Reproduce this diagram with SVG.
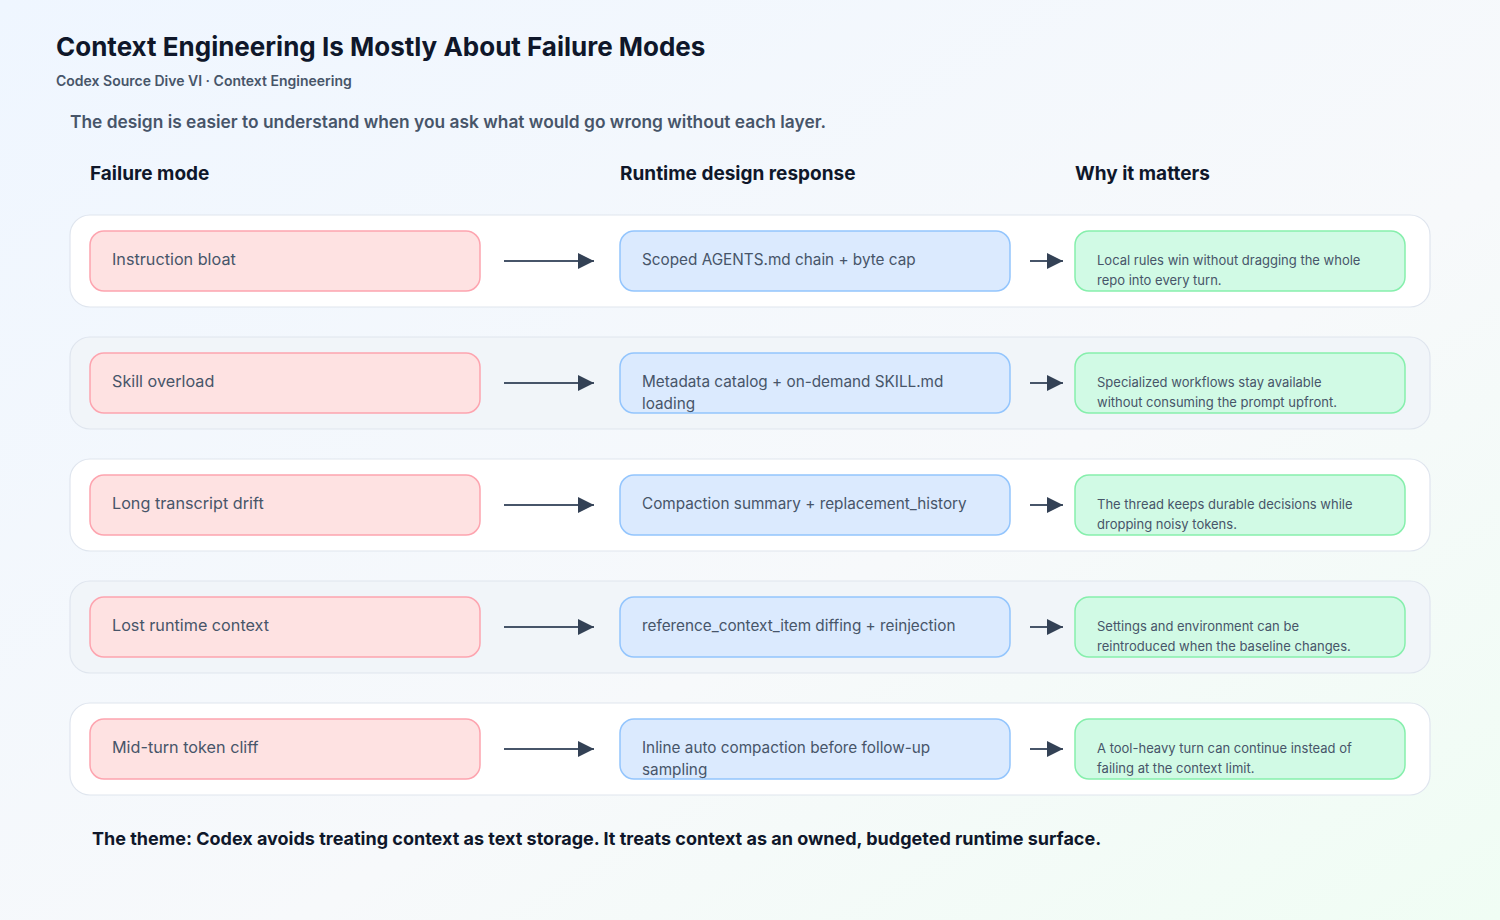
<svg xmlns="http://www.w3.org/2000/svg" width="1500" height="920" viewBox="0 0 1500 920">
<defs>
<linearGradient id="bg" x1="0" y1="0" x2="1" y2="1">
<stop offset="0" stop-color="#eff6ff"/>
<stop offset="0.6" stop-color="#f7f9fb"/>
<stop offset="1" stop-color="#f0fdf4"/>
</linearGradient>
<marker id="ah2" viewBox="0 0 16 16" refX="16" refY="8" markerWidth="16" markerHeight="16" markerUnits="userSpaceOnUse" orient="auto">
<path d="M0,0 L16,8 L0,16 z" fill="#334155"/>
</marker>
</defs>
<style>
text{font-family:Inter,"Noto Sans","Liberation Sans",sans-serif}
.title{font-size:26px;font-weight:700;fill:#0f172a}
.sub{font-size:14px;font-weight:600;fill:#475569}
.intro{font-size:17.35px;font-weight:600;fill:#475569}
.hdr{font-size:19px;font-weight:700;fill:#0f172a}
.foot{font-size:18px;font-weight:700;fill:#0f172a}
.rowA{fill:#ffffff;stroke:#dfe5ee;stroke-width:1.2}
.rowB{fill:#f1f5f9;stroke:#dfe5ee;stroke-width:1.2}
.fail{fill:#fee2e2;stroke:#fda4af;stroke-width:1.5}
.resp{fill:#dbeafe;stroke:#93c5fd;stroke-width:1.5}
.why{fill:#d1fae5;stroke:#86efac;stroke-width:1.5}
.tf{font-size:16.2px;fill:#475569}
.t16{font-size:15.3px;fill:#475569}
.t13{font-size:13px;fill:#475569}
.conn{stroke:#475569;stroke-width:2;fill:none;marker-end:url(#ah2)}
</style>
<rect width="1500" height="920" fill="url(#bg)"/>
<text class="title" x="56" y="56">Context Engineering Is Mostly About Failure Modes</text>
<text class="sub" x="56" y="86">Codex Source Dive VI · Context Engineering</text>
<text class="intro" x="70" y="128">The design is easier to understand when you ask what would go wrong without each layer.</text>
<text class="hdr" x="90" y="180">Failure mode</text>
<text class="hdr" x="620" y="180">Runtime design response</text>
<text class="hdr" x="1075" y="180">Why it matters</text>

<g id="row1">
<rect class="rowA" x="70" y="215" width="1360" height="92" rx="20"/>
</g>
<g id="row2">
<rect class="rowB" x="70" y="337" width="1360" height="92" rx="20"/>
</g>
<g id="row3">
<rect class="rowA" x="70" y="459" width="1360" height="92" rx="20"/>
</g>
<g id="row4">
<rect class="rowB" x="70" y="581" width="1360" height="92" rx="20"/>
</g>
<g id="row5">
<rect class="rowA" x="70" y="703" width="1360" height="92" rx="20"/>
</g>

<g id="connectors">
<line class="conn" x1="504" y1="261" x2="594" y2="261"/>
<line class="conn" x1="1030" y1="261" x2="1063" y2="261"/>
<line class="conn" x1="504" y1="383" x2="594" y2="383"/>
<line class="conn" x1="1030" y1="383" x2="1063" y2="383"/>
<line class="conn" x1="504" y1="505" x2="594" y2="505"/>
<line class="conn" x1="1030" y1="505" x2="1063" y2="505"/>
<line class="conn" x1="504" y1="627" x2="594" y2="627"/>
<line class="conn" x1="1030" y1="627" x2="1063" y2="627"/>
<line class="conn" x1="504" y1="749" x2="594" y2="749"/>
<line class="conn" x1="1030" y1="749" x2="1063" y2="749"/>
</g>

<g id="fail1"><rect class="fail" x="90" y="231" width="390" height="60" rx="14"/><text class="tf" x="112" y="265">Instruction bloat</text></g>
<g id="resp1"><rect class="resp" x="620" y="231" width="390" height="60" rx="14"/><text class="t16" x="642" y="265">Scoped AGENTS.md chain + byte cap</text></g>
<g id="why1"><rect class="why" x="1075" y="231" width="330" height="60" rx="14"/><text class="t13" x="1097" y="265">Local rules win without dragging the whole</text><text class="t13" x="1097" y="285">repo into every turn.</text></g>

<g id="fail2"><rect class="fail" x="90" y="353" width="390" height="60" rx="14"/><text class="tf" x="112" y="387">Skill overload</text></g>
<g id="resp2"><rect class="resp" x="620" y="353" width="390" height="60" rx="14"/><text class="t16" x="642" y="387">Metadata catalog + on-demand SKILL.md</text><text class="t16" x="642" y="409">loading</text></g>
<g id="why2"><rect class="why" x="1075" y="353" width="330" height="60" rx="14"/><text class="t13" x="1097" y="387">Specialized workflows stay available</text><text class="t13" x="1097" y="407">without consuming the prompt upfront.</text></g>

<g id="fail3"><rect class="fail" x="90" y="475" width="390" height="60" rx="14"/><text class="tf" x="112" y="509">Long transcript drift</text></g>
<g id="resp3"><rect class="resp" x="620" y="475" width="390" height="60" rx="14"/><text class="t16" x="642" y="509">Compaction summary + replacement_history</text></g>
<g id="why3"><rect class="why" x="1075" y="475" width="330" height="60" rx="14"/><text class="t13" x="1097" y="509">The thread keeps durable decisions while</text><text class="t13" x="1097" y="529">dropping noisy tokens.</text></g>

<g id="fail4"><rect class="fail" x="90" y="597" width="390" height="60" rx="14"/><text class="tf" x="112" y="631">Lost runtime context</text></g>
<g id="resp4"><rect class="resp" x="620" y="597" width="390" height="60" rx="14"/><text class="t16" x="642" y="631">reference_context_item diffing + reinjection</text></g>
<g id="why4"><rect class="why" x="1075" y="597" width="330" height="60" rx="14"/><text class="t13" x="1097" y="631">Settings and environment can be</text><text class="t13" x="1097" y="651">reintroduced when the baseline changes.</text></g>

<g id="fail5"><rect class="fail" x="90" y="719" width="390" height="60" rx="14"/><text class="tf" x="112" y="753">Mid-turn token cliff</text></g>
<g id="resp5"><rect class="resp" x="620" y="719" width="390" height="60" rx="14"/><text class="t16" x="642" y="753">Inline auto compaction before follow-up</text><text class="t16" x="642" y="775">sampling</text></g>
<g id="why5"><rect class="why" x="1075" y="719" width="330" height="60" rx="14"/><text class="t13" x="1097" y="753">A tool-heavy turn can continue instead of</text><text class="t13" x="1097" y="773">failing at the context limit.</text></g>

<text class="foot" x="92" y="845">The theme: Codex avoids treating context as text storage. It treats context as an owned, budgeted runtime surface.</text>
</svg>
